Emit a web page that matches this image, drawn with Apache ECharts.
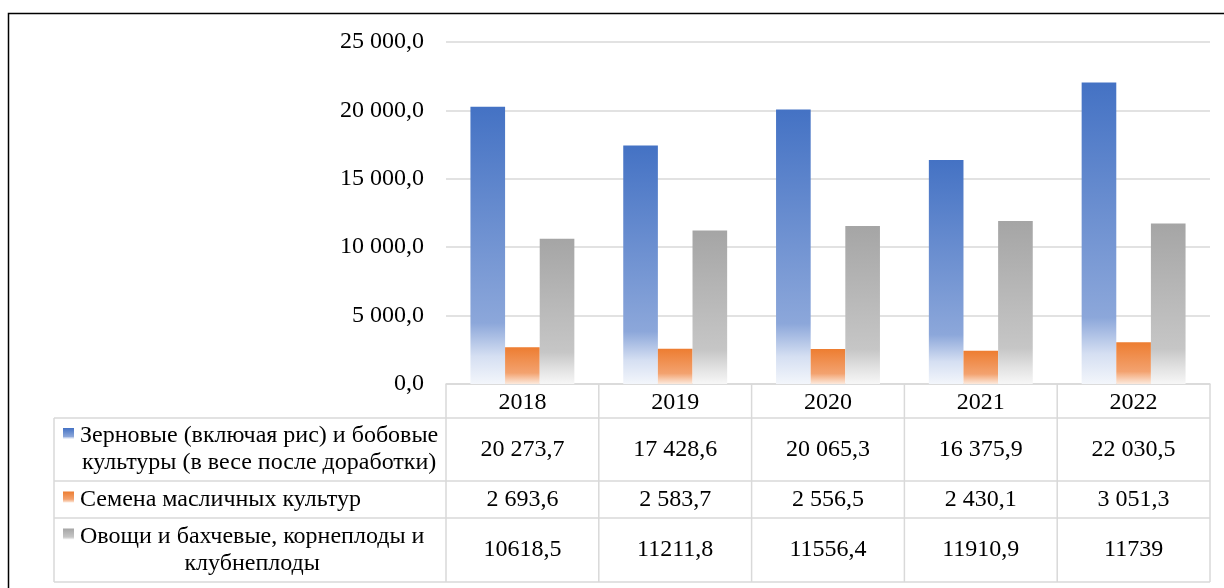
<!DOCTYPE html>
<html>
<head>
<meta charset="utf-8">
<script src="https://cdn.jsdelivr.net/npm/echarts@6/dist/echarts.min.js"></script>
<style>
  html, body { margin: 0; padding: 0; background: #fff; }
  #chart { width: 1224px; height: 588px; }
</style>
</head>
<body>
<div id="chart"></div>
<script>
// data
var categories = ['2018', '2019', '2020', '2021', '2022'];
var seriesNames = [
    'Зерновые (включая рис) и бобовые\nкультуры (в весе после доработки)',
    'Семена масличных культур',
    'Овощи и бахчевые, корнеплоды и\nклубнеплоды'
];
var grainValues = [20273.7, 17428.6, 20065.3, 16375.9, 22030.5];
var oilseedValues = [2693.6, 2583.7, 2556.5, 2430.1, 3051.3];
var vegValues = [10618.5, 11211.8, 11556.4, 11910.9, 11739];
// table text as printed in the source
var grainLabels = ['20 273,7', '17 428,6', '20 065,3', '16 375,9', '22 030,5'];
var oilseedLabels = ['2 693,6', '2 583,7', '2 556,5', '2 430,1', '3 051,3'];
var vegLabels = ['10618,5', '11211,8', '11556,4', '11910,9', '11739'];
var yTicks = [0, 5000, 10000, 15000, 20000, 25000];

var FONT = '"Liberation Serif", "Times New Roman", serif';
var FS = 24;
var LINE = '#D9D9D9';

function grad(stops) {
    return {
        type: 'linear', x: 0, y: 0, x2: 0, y2: 1,
        colorStops: stops.map(function (s) { return { offset: s[0], color: s[1] }; })
    };
}
var fillStops = [
    [[0, '#4472C4'], [0.78, '#8CA7DA'], [0.9, '#D5DFF2'], [1, '#F3F6FB']],
    [[0, '#ED7D31'], [0.7, '#F3A26F'], [1, '#FCE9DC']],
    [[0, '#A5A5A5'], [0.78, '#C6C6C6'], [0.9, '#E2E2E2'], [1, '#F7F7F7']]
];

function fmtY(v) {
    var s = Math.round(v).toString().replace(/\B(?=(\d{3})+(?!\d))/g, ' ');
    return s + ',0';
}

var dom = document.getElementById('chart');
var myChart = echarts.init(dom);

var option = {
    animation: false,
    grid: { left: 446, right: 14, top: 42, bottom: 204, containLabel: false },
    xAxis: {
        type: 'category',
        data: categories,
        axisLine: { show: true, lineStyle: { color: LINE, width: 1.5 } },
        axisTick: { show: false },
        axisLabel: { color: '#000', fontFamily: FONT, fontSize: FS, margin: 7 }
    },
    yAxis: {
        type: 'value',
        min: 0,
        max: yTicks[yTicks.length - 1],
        interval: yTicks[1] - yTicks[0],
        axisLine: { show: false },
        axisTick: { show: false },
        splitLine: { lineStyle: { color: LINE, width: 1.5 } },
        axisLabel: { color: '#000', fontFamily: FONT, fontSize: FS, margin: 22, formatter: fmtY }
    },
    series: [
        { name: 'grain', type: 'bar', data: grainValues, barGap: '0%', barCategoryGap: '32%', itemStyle: { color: grad(fillStops[0]) } },
        { name: 'oilseed', type: 'bar', data: oilseedValues, barGap: '0%', barCategoryGap: '32%', itemStyle: { color: grad(fillStops[1]) } },
        { name: 'veg', type: 'bar', data: vegValues, barGap: '0%', barCategoryGap: '32%', itemStyle: { color: grad(fillStops[2]) } }
    ]
};
myChart.setOption(option);

// data table under the plot
var ctx = document.createElement('canvas').getContext('2d');
ctx.font = FS + 'px ' + FONT;

var centers = categories.map(function (c) { return myChart.convertToPixel({ xAxisIndex: 0 }, c); });
var band = centers[1] - centers[0];
var leftX = centers[0] - band / 2;
var rightX = centers[centers.length - 1] + band / 2;
var y0 = myChart.convertToPixel({ yAxisIndex: 0 }, 0);
var rowTops = [y0 + 34, y0 + 97, y0 + 134, y0 + 198];
var tableLeft = 54;
var rowLabels = [grainLabels, oilseedLabels, vegLabels];

var g = [];
// outer black frame
g.push({ type: 'rect', shape: { x: 8.5, y: 13.5, width: 1400, height: 800 }, style: { fill: 'none', stroke: '#000', lineWidth: 1.5 }, silent: true });

function line(x1, y1, x2, y2) {
    g.push({ type: 'line', shape: { x1: x1, y1: y1, x2: x2, y2: y2 }, style: { stroke: LINE, lineWidth: 1.5 }, silent: true });
}
rowTops.forEach(function (y) { line(tableLeft, y, rightX, y); });
for (var i = 0; i <= categories.length; i++) {
    line(leftX + i * band, y0, leftX + i * band, rowTops[3]);
}
line(tableLeft, rowTops[0], tableLeft, rowTops[3]);

for (var r = 0; r < 3; r++) {
    var rowTop = rowTops[r], rowBot = rowTops[r + 1], mid = (rowTop + rowBot) / 2;
    var lines = seriesNames[r].split('\n');
    var w = Math.max.apply(null, lines.map(function (l) { return ctx.measureText(l).width; }));
    var textX = 80;
    var firstLineY = mid - (lines.length - 1) * 13.5;
    // legend key
    g.push({ type: 'rect', shape: { x: 63, y: firstLineY - 8, width: 11, height: 11 }, style: { fill: grad(fillStops[r]) }, silent: true });
    g.push({
        type: 'text', x: textX + w / 2, y: mid,
        style: { text: seriesNames[r], font: FS + 'px ' + FONT, fill: '#000', align: 'center', verticalAlign: 'middle', lineHeight: 27 },
        silent: true
    });
    for (var c = 0; c < categories.length; c++) {
        g.push({
            type: 'text', x: centers[c], y: mid,
            style: { text: rowLabels[r][c], font: FS + 'px ' + FONT, fill: '#000', align: 'center', verticalAlign: 'middle' },
            silent: true
        });
    }
}
myChart.setOption({ graphic: g });
</script>
</body>
</html>
